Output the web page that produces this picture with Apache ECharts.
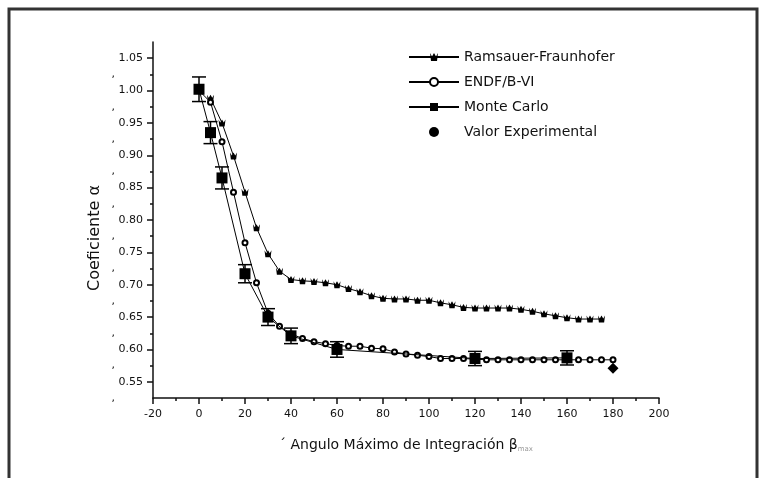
<!DOCTYPE html>
<html><head><meta charset="utf-8">
<script src="https://cdn.jsdelivr.net/npm/echarts@6/dist/echarts.min.js"></script>
<style>html,body{margin:0;padding:0;background:#fff}#c{width:761px;height:478px}</style>
</head><body><div id="c"></div>
<script>
// Ramsauer-Fraunhofer
const xRF = [5,10,15,20,25,30,35,40,45,50,55,60,65,70,75,80,85,90,95,100,105,110,115,120,125,130,135,140,145,150,155,160,165,170,175];
const yRF = [0.988,0.950,0.899,0.843,0.788,0.748,0.721,0.708,0.706,0.705,0.703,0.700,0.694,0.689,0.683,0.679,0.678,0.678,0.676,0.676,0.672,0.669,0.665,0.664,0.664,0.664,0.664,0.662,0.659,0.655,0.652,0.649,0.647,0.647,0.647];
// ENDF/B-VI
const xENDF = [0,5,10,15,20,25,30,35,40,45,50,55,60,65,70,75,80,85,90,95,100,105,110,115,120,125,130,135,140,145,150,155,160,165,170,175,180];
const yENDF = [1.000,0.982,0.921,0.843,0.765,0.703,0.656,0.636,0.624,0.617,0.612,0.609,0.606,0.605,0.605,0.602,0.601,0.596,0.593,0.591,0.589,0.586,0.586,0.586,0.585,0.584,0.584,0.584,0.584,0.584,0.584,0.584,0.584,0.584,0.584,0.584,0.584];
// Monte Carlo with error
const xMC = [0,5,10,20,30,40,60,120,160];
const yMC = [1.002,0.935,0.865,0.717,0.650,0.621,0.600,0.586,0.587];
const errMC = [0.019,0.017,0.017,0.014,0.013,0.012,0.012,0.011,0.011];
// Valor Experimental
const xExp = [180];
const yExp = [0.571];
// axis ticks
const yTickLabels = [0.55,0.60,0.65,0.70,0.75,0.80,0.85,0.90,0.95,1.00,1.05];
const yMinorTicks = [0.575,0.625,0.675,0.725,0.775,0.825,0.875,0.925,0.975,1.025];
const commaMarks = [0.525,0.575,0.625,0.675,0.725,0.775,0.825,0.875,0.925,0.975,1.025];

const FONT = '"DejaVu Sans", "Liberation Sans", Arial, sans-serif';
const chart = echarts.init(document.getElementById('c'), null, {renderer:'canvas'});
const crown = 'path://M0,0 L2,3 L4,0 L6,3 L8,0 L7,7 L1,7 Z';

chart.setOption({
  animation: false,
  backgroundColor: '#fff',
  grid: {left: 153, right: 102, top: 42, bottom: 80, containLabel: false},
  graphic: [{type:'rect', silent:true, z:100, shape:{x:9,y:9,width:748,height:500}, style:{fill:'none', stroke:'#333', lineWidth:3}}],
  legend: {
    orient: 'vertical', left: 408, top: 50, padding: 0, itemWidth: 50, itemHeight: 10, itemGap: 11,
    textStyle: {fontSize: 14, lineHeight: 14, fontFamily: FONT, color: '#111'},
    data: [{name:'Ramsauer-Fraunhofer'},{name:'ENDF/B-VI'},{name:'Monte Carlo'},{name:'Valor Experimental', icon:'circle', itemStyle:{color:'#000'}}]
  },
  xAxis: {
    type: 'value', min: -20, max: 200, interval: 20,
    name: '´ Angulo Máximo de Integración β{sub|max}', nameLocation: 'middle', nameGap: 40,
    nameTextStyle: {fontSize: 14, fontFamily: FONT, color: '#111', rich: {sub: {fontSize: 7, color: '#999', fontFamily: FONT, padding: [8,0,0,0]}}},
    axisLine: {show: true, onZero: false, lineStyle: {color: '#111', width: 1.5}},
    axisTick: {show: true, length: 6, lineStyle: {color: '#111', width: 1.5}},
    minorTick: {show: true, splitNumber: 2, length: 3, lineStyle: {color: '#111', width: 1.5}},
    splitLine: {show: false}, minorSplitLine: {show: false},
    axisLabel: {fontSize: 11, fontFamily: FONT, color: '#111', margin: 11}
  },
  yAxis: [{
    type: 'value', min: 0.525, max: 1.075, position: 'left',
    name: 'Coeficiente α', nameLocation: 'middle', nameGap: 50, nameRotate: 90,
    nameTextStyle: {fontSize: 16, fontFamily: FONT, color: '#111', padding: [0,36,0,0]},
    axisLine: {show: true, onZero: false, lineStyle: {color: '#111', width: 1.5}},
    axisTick: {show: true, length: 6, customValues: yTickLabels, lineStyle: {color: '#111', width: 1.5}},
    splitLine: {show: false},
    axisLabel: {fontSize: 11, fontFamily: FONT, color: '#111', margin: 10, customValues: yTickLabels, formatter: v => v.toFixed(2)}
  },{
    type: 'value', min: 0.525, max: 1.075, position: 'left', offset: 0,
    axisLine: {show: false, onZero: false},
    axisTick: {show: true, length: 3, customValues: yMinorTicks, lineStyle: {color: '#111', width: 1.5}},
    splitLine: {show: false},
    axisLabel: {fontSize: 11, fontFamily: FONT, color: '#111', margin: 38, customValues: commaMarks, formatter: () => ',', padding: [0,0,10,0]}
  }],
  series: [
    {name:'Ramsauer-Fraunhofer', type:'line', data: xRF.map((x,i)=>[x,yRF[i]]), symbol: crown, symbolSize: 7,
     lineStyle:{color:'#000', width:1}, itemStyle:{color:'#000'}, z: 2},
    {name:'ENDF/B-VI', type:'line', data: xENDF.map((x,i)=>[x,yENDF[i]]), symbol: 'emptyCircle', symbolSize: 5,
     lineStyle:{color:'#000', width:1}, itemStyle:{color:'#000', borderWidth: 1.2}, z: 2},
    {name:'Monte Carlo', type:'line', data: xMC.map((x,i)=>[x,yMC[i]]), symbol: 'rect', symbolSize: 11,
     lineStyle:{color:'#000', width:1}, itemStyle:{color:'#000'}, z: 4},
    {name:'MC error', type:'custom', data: xMC.map((x,i)=>[x,yMC[i],errMC[i]]), encode:{x:0,y:1}, z: 3,
     renderItem: (params, api) => {
       const x = api.value(0), y = api.value(1), e = api.value(2);
       const t = api.coord([x, y+e]), b = api.coord([x, y-e]), hw = 7;
       const st = {stroke:'#000', lineWidth:1.5};
       return {type:'group', children:[
         {type:'line', shape:{x1:t[0],y1:t[1],x2:b[0],y2:b[1]}, style:st},
         {type:'line', shape:{x1:t[0]-hw,y1:t[1],x2:t[0]+hw,y2:t[1]}, style:st},
         {type:'line', shape:{x1:b[0]-hw,y1:b[1],x2:b[0]+hw,y2:b[1]}, style:st}
       ]};
     }},
    {name:'Valor Experimental', type:'scatter', data: xExp.map((x,i)=>[x,yExp[i]]), symbol:'diamond', symbolSize: 11,
     itemStyle:{color:'#000', opacity: 1}, z: 4}
  ]
});
</script></body></html>
